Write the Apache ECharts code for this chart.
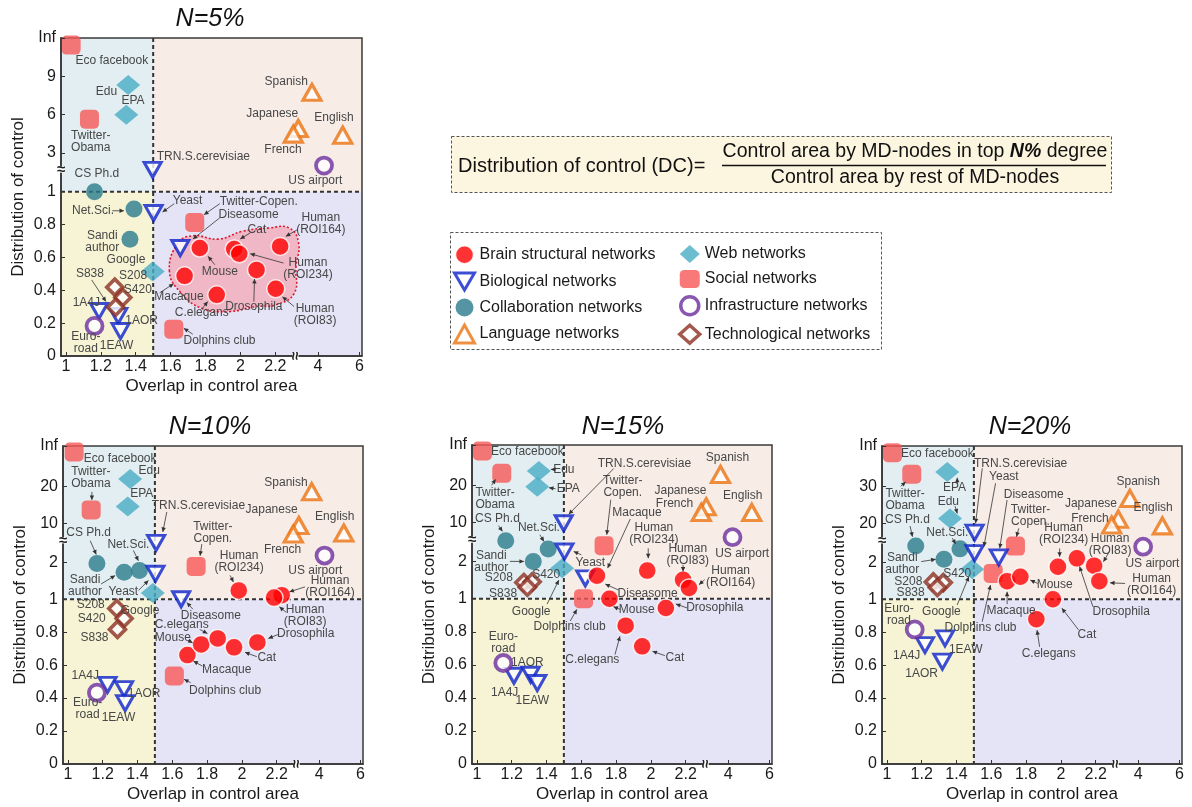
<!DOCTYPE html>
<html>
<head>
<meta charset="utf-8">
<title>Distribution of control vs overlap in control area</title>
<script src="https://cdn.jsdelivr.net/npm/echarts@6.0.0/dist/echarts.min.js"></script>
<style>
html,body{margin:0;padding:0;background:#ffffff;}
#chart{width:1192px;height:807px;}
</style>
</head>
<body>
<div id="chart"></div>
<script>
// ---------- categories ----------
const categories = [
  'Brain structural networks', 'Biological networks', 'Collaboration networks', 'Language networks',
  'Web networks', 'Social networks', 'Infrastructure networks', 'Technological networks'
];

// ---------- tick labels ----------
const xTickValues = [1, 1.2, 1.4, 1.6, 1.8, 2, 2.2, 4, 6];
const xTickLabels = ['1', '1.2', '1.4', '1.6', '1.8', '2', '2.2', '4', '6'];

const yTickValues5 = [0, 0.2, 0.4, 0.6, 0.8, 1, 3, 6, 9, 12];
const yTickLabels5 = ['0', '0.2', '0.4', '0.6', '0.8', '1', '3', '6', '9', 'Inf'];
const yTickValues10 = [0, 0.2, 0.4, 0.6, 0.8, 1, 2, 10, 20, 30.8];
const yTickLabels10 = ['0', '0.2', '0.4', '0.6', '0.8', '1', '2', '10', '20', 'Inf'];
const yTickValues20 = [0, 0.2, 0.4, 0.6, 0.8, 1, 2, 20, 30, 40.8];
const yTickLabels20 = ['0', '0.2', '0.4', '0.6', '0.8', '1', '2', '20', '30', 'Inf'];

// broken y scales: [value, axis position]
const yScale5 = [[0, 0], [1, 1], [3, 1.235], [12, 1.935]];
const yScale10 = [[0, 0], [1, 1], [2, 1.224], [10, 1.461], [30.8, 1.93]];
const yScale20 = [[0, 0], [1, 1], [2, 1.224], [20, 1.461], [40.8, 1.93]];

// ---------- values: [name, category index, overlap, distribution] ----------
const points5 = [
  ['Eco facebook', 5, 1.03, 11.45], ['Twitter-\nObama', 5, 1.135, 5.65],
  ['Twitter-Copen.', 5, 1.738, 0.813], ['Dolphins club', 5, 1.618, 0.163],
  ['Edu', 4, 1.357, 8.33], ['EPA', 4, 1.346, 6.0], ['Google', 4, 1.497, 0.514],
  ['TRN.S.cerevisiae', 1, 1.497, 2.13], ['Yeast', 1, 1.502, 0.87], ['Diseasome', 1, 1.655, 0.657],
  ['1A4J', 1, 1.19, 0.274], ['1AOR', 1, 1.30, 0.244], ['1EAW', 1, 1.313, 0.152],
  ['CS Ph.d', 2, 1.164, 1.0], ['Net.Sci.', 2, 1.39, 0.894], ['Sandi\nauthor', 2, 1.367, 0.711],
  ['S208', 7, 1.28, 0.419], ['S420', 7, 1.326, 0.356], ['S838', 7, 1.285, 0.297],
  ['Euro-\nroad', 6, 1.164, 0.183], ['US airport', 6, 4.29, 2.35],
  ['Spanish', 3, 3.71, 7.75], ['Japanese', 3, 3.05, 4.92], ['French', 3, 2.81, 4.48], ['English', 3, 5.19, 4.4],
  ['Mouse', 0, 1.767, 0.657], ['Cat', 0, 1.964, 0.651], ['Human\n(ROI234)', 0, 1.993, 0.622],
  ['Human\n(ROI164)', 0, 2.227, 0.667], ['Macaque', 0, 1.68, 0.488], ['Drosophila', 0, 2.092, 0.524],
  ['C.elegans', 0, 1.864, 0.372], ['Human\n(ROI83)', 0, 2.202, 0.409]
];

const points10 = [
  ['Eco facebook', 5, 1.036, 29.2], ['Twitter-\nObama', 5, 1.134, 13.6],
  ['Twitter-\nCopen.', 5, 1.737, 1.89], ['Dolphins club', 5, 1.612, 0.534],
  ['Edu', 4, 1.358, 21.9], ['EPA', 4, 1.344, 14.5], ['Google', 4, 1.488, 1.17],
  ['TRN.S.cerevisiae', 1, 1.507, 5.97], ['Yeast', 1, 1.503, 1.69], ['Diseasome', 1, 1.651, 1.0],
  ['1A4J', 1, 1.228, 0.48], ['1AOR', 1, 1.323, 0.454], ['1EAW', 1, 1.329, 0.369],
  ['CS Ph.d', 2, 1.167, 1.97], ['Net.Sci.', 2, 1.411, 1.78], ['Sandi\nauthor', 2, 1.323, 1.73],
  ['S208', 7, 1.281, 0.944], ['S420', 7, 1.323, 0.883], ['S838', 7, 1.285, 0.817],
  ['Euro-\nroad', 6, 1.167, 0.433], ['US airport', 6, 4.26, 3.39],
  ['Spanish', 3, 3.64, 18.5], ['Japanese', 3, 3.02, 9.55], ['French', 3, 2.75, 7.8], ['English', 3, 5.19, 8.0],
  ['Human\n(ROI234)', 0, 1.982, 1.24], ['Human\n(ROI164)', 0, 2.229, 1.11], ['Human\n(ROI83)', 0, 2.185, 1.045],
  ['Macaque', 0, 1.687, 0.661], ['Mouse', 0, 1.766, 0.726], ['C.elegans', 0, 1.861, 0.762],
  ['Cat', 0, 1.955, 0.708], ['Drosophila', 0, 2.089, 0.738]
];

const points15 = [
  ['Eco facebook', 5, 1.032, 29.2], ['Twitter-\nObama', 5, 1.143, 23.2],
  ['Twitter-\nCopen.', 5, 1.731, 5.26], ['Dolphins club', 5, 1.613, 1.0],
  ['Edu', 4, 1.356, 23.8], ['EPA', 4, 1.347, 19.6], ['Google', 4, 1.49, 1.82],
  ['TRN.S.cerevisiae', 1, 1.499, 9.85], ['Yeast', 1, 1.503, 4.08], ['Diseasome', 1, 1.623, 1.55],
  ['1A4J', 1, 1.213, 0.534], ['1AOR', 1, 1.309, 0.54], ['1EAW', 1, 1.347, 0.49],
  ['CS Ph.d', 2, 1.166, 6.3], ['Net.Sci.', 2, 1.41, 4.57], ['Sandi\nauthor', 2, 1.324, 2.06],
  ['S208', 7, 1.27, 1.44], ['S420', 7, 1.318, 1.46], ['S838', 7, 1.29, 1.31],
  ['Euro-\nroad', 6, 1.152, 0.611], ['US airport', 6, 4.21, 7.0],
  ['Spanish', 3, 3.63, 22.9], ['Japanese', 3, 2.94, 14.2], ['French', 3, 2.70, 12.7], ['English', 3, 5.14, 12.7],
  ['Macaque', 0, 1.69, 1.62], ['Mouse', 0, 1.762, 1.0], ['Human\n(ROI234)', 0, 1.979, 1.76],
  ['Human\n(ROI83)', 0, 2.185, 1.51], ['Human\n(ROI164)', 0, 2.219, 1.29], ['Drosophila', 0, 2.086, 0.944],
  ['C.elegans', 0, 1.855, 0.837], ['Cat', 0, 1.95, 0.712]
];

const points20 = [
  ['Eco facebook', 5, 1.032, 39], ['Twitter-\nObama', 5, 1.143, 33.2],
  ['Twitter-\nCopen.', 5, 1.739, 9.5], ['Dolphins club', 5, 1.611, 1.70],
  ['EPA', 4, 1.347, 33.8], ['Edu', 4, 1.363, 21.3], ['Google', 4, 1.49, 1.81],
  ['TRN.S.cerevisiae', 1, 1.504, 15.7], ['Yeast', 1, 1.504, 6.2], ['Diseasome', 1, 1.643, 4.3],
  ['1A4J', 1, 1.219, 0.722], ['1EAW', 1, 1.334, 0.762], ['1AOR', 1, 1.319, 0.621],
  ['CS Ph.d', 2, 1.166, 9.5], ['Net.Sci.', 2, 1.42, 8.2], ['Sandi\nauthor', 2, 1.328, 3.4],
  ['S208', 7, 1.267, 1.47], ['S420', 7, 1.324, 1.45], ['S838', 7, 1.29, 1.32],
  ['Euro-\nroad', 6, 1.16, 0.817], ['US airport', 6, 4.24, 9.2],
  ['Spanish', 3, 3.6, 26.7], ['Japanese', 3, 3.04, 21.1], ['French', 3, 2.72, 19.2], ['English', 3, 5.17, 18.8],
  ['Macaque', 0, 1.691, 1.49], ['Mouse', 0, 1.767, 1.61], ['Human\n(ROI234)', 0, 1.983, 1.88],
  ['Drosophila', 0, 2.092, 3.85], ['Human\n(ROI83)', 0, 2.191, 1.91], ['Human\n(ROI164)', 0, 2.221, 1.49],
  ['Cat', 0, 1.954, 1.0], ['C.elegans', 0, 1.859, 0.879]
];

// outline of the brain-network cluster at N=5%
const brainArea5 = [
  [1.593, 0.514], [1.642, 0.687], [1.729, 0.732], [1.874, 0.711], [2.009, 0.758], [2.163, 0.779],
  [2.279, 0.779], [2.333, 0.687], [2.318, 0.545], [2.308, 0.382], [2.202, 0.311], [2.086, 0.301],
  [1.932, 0.270], [1.777, 0.291], [1.661, 0.382]
];

// ---------- label placement (pixel offsets from the marker; optional leader arrow) ----------
const layout5 = {
  'Eco facebook': [40.7, 15.7], 'Edu': [-21.7, 6.7], 'EPA': [6.7, -14.3], 'Twitter-\nObama': [1.3, 22.7],
  'TRN.S.cerevisiae': [50.7, -13.3], 'CS Ph.d': [2.3, -17.7], 'Spanish': [-25.7, -10.7],
  'Japanese': [-26, -15], 'French': [-10.3, 16], 'English': [-8.7, -17.7], 'US airport': [-8.7, 15.3],
  'Net.Sci.': [-41, 1.7, [-21.7, 1.7, -10, 1.7]], 'Yeast': [34, -12.7, [20.7, -9.3, 9, -1]],
  'Twitter-Copen.': [64, -20.7, [25, -18.7, 9.3, -7.7]], 'Diseasome': [68.3, -33.3, [39.3, -30, 12.7, -9]],
  'Cat': [22.7, -19.3, [16, -16, 6, -10]], 'Human\n(ROI164)': [40.7, -22.7, [17.3, -16.7, 5.7, -10]],
  'Mouse': [20, 23.3, [15, 16.7, 8.3, 8.3]], 'Human\n(ROI234)': [68.7, 15.3, [44.3, 9.3, 11, 0]],
  'Google': [-26.7, -11.7], 'S838': [-25.7, -34, [-24, -27.3, -9.7, -5.7]], 'S208': [18.3, -11.3],
  'S420': [15, -7.7], 'Macaque': [-5.7, 20.7, [-25, 17, -11, 8]],
  'Drosophila': [-2.7, 37.3, [-2.7, 31.7, -2, 9]], 'C.elegans': [-15, 18.3, [-15, 14.3, -9, 6.7]],
  'Human\n(ROI83)': [39.3, 26, [18.3, 17.7, 6.7, 8]], '1A4J': [-12.7, -8.3], '1AOR': [23.3, 5],
  '1EAW': [-4, 15], 'Euro-\nroad': [-8.7, 16.7], 'Dolphins club': [45.7, 11.3, [19, 5, 10, -1]],
  'Sandi\nauthor': [-27.7, 2.3]
};
const layout10 = {
  'Eco facebook': [46, 6.7], 'Twitter-\nObama': [-0.3, -32.3, [0.7, -18, 0.7, -10]], 'Edu': [19, -8],
  'EPA': [14, -13.3], 'TRN.S.cerevisiae': [42.3, -37.7, [10.7, -31, 6.7, -11]],
  'CS Ph.d': [-8.3, -30.3, [-6.7, -22.7, -0.7, -9]], 'Net.Sci.': [-11, -26, [-6, -20, -1, -9.7]],
  'Sandi\nauthor': [-39, 13.3, [-23, 11.7, -9, 3.3]], 'Yeast': [-32, 18.3, [-17, 16.7, -7, 6.7]],
  'Google': [-12.7, 18], 'Twitter-\nCopen.': [16.7, -34, [5.7, -22.3, 4, -10.7]],
  'Human\n(ROI234)': [0.3, -28.3, [-8.7, -15, -5.3, -8.3]], 'Spanish': [-25.7, -9.3],
  'Japanese': [-27.3, -15.7], 'French': [-10.7, 15.7], 'English': [-9, -16.7], 'US airport': [-9.3, 15],
  'Human\n(ROI164)': [48.3, -8.3, [23.3, -8.3, 7.7, -3.3]], 'Human\n(ROI83)': [31, 17.7, [12, 14.7, 5.3, 9.3]],
  'Diseasome': [29.7, 16.7, [11.7, 10, 5.7, 3.3]], 'S208': [-26, -3.3], 'S420': [-32.3, 0], 'S838': [-23, 8],
  'C.elegans': [-36, -13.3, [-18, -9, -10.3, -5]], 'Mouse': [-28.3, -7, [-13, -4, -8.5, -1.5]],
  'Macaque': [39.3, 15, [15, 11, 6, 6]], 'Cat': [32.7, 10.3, [22.7, 9.3, 11, 5]],
  'Drosophila': [48.3, -9, [21, -8, 11, -4]], 'Dolphins club': [50.7, 15, [16.3, 6.7, 9.7, 3.3]],
  'Euro-\nroad': [-9.3, 16.3], '1A4J': [-22.3, -9], '1AOR': [20, 4.3], '1EAW': [-6.7, 14.3]
};
const layout15 = {
  'Eco facebook': [45, 1], 'Twitter-\nObama': [-6.7, 25, [-10.3, 12, -6, 6]], 'Edu': [25, -1.7, [17, -1.7, 12, -1.7]],
  'EPA': [31, 2, [18.3, 2, 11.7, 1]], 'TRN.S.cerevisiae': [80.7, -60, [50, -54.7, 5, -9]],
  'Twitter-\nCopen.': [18.7, -58.7, [6.7, -46, 2.7, -11]], 'Macaque': [40, -62.7, [33.3, -56.7, 10.7, -7.7]],
  'CS Ph.d': [-8.3, -21.7, [-7.3, -15, -3.3, -9.3]], 'Net.Sci.': [-9.3, -21, [-8.3, -14.3, -4.3, -7.7]],
  'Sandi\nauthor': [-42, 0.7, [-23.3, 0, -9.3, 0]], 'Yeast': [26, 10.7, [17, 3.3, 9.3, 0]],
  'Google': [-31, 43.3, [-15, 35.7, -3.3, 11.7]], 'S208': [-25, -4.3], 'S420': [14, -7.3], 'S838': [-24.3, 6.7],
  'Diseasome': [62.3, 15, [33.3, 11.7, 20, 5.7]], 'Dolphins club': [-14, 28.3, [-13.3, 22.3, -6.7, 10.7]],
  'Mouse': [27.3, 10.7, [10.7, 10.7, 4, 8]], 'Human\n(ROI234)': [6.7, -37.3, [1, -22.3, 1, -12.3]],
  'Human\n(ROI83)': [4.7, -25, [0, -15, 0, -8.3]], 'Human\n(ROI164)': [41.7, -11.7, [15.7, -8.3, 10, -3.3]],
  'Drosophila': [49, 0, [21.3, 0, 10, -4]], 'C.elegans': [-33.3, 34, [-10.7, 29, -5.7, 10.7]],
  'Cat': [32.7, 11.7, [22.7, 9.3, 10.3, 5]], 'Spanish': [7, -16.7], 'Japanese': [-25.7, -16],
  'French': [-26.7, -8.3], 'English': [-9, -16.7], 'US airport': [9.7, 16.7], 'Euro-\nroad': [0, -20],
  '1AOR': [-3.3, -12.3], '1A4J': [-9.3, 17.3], '1EAW': [-5, 17.3]
};
const layout20 = {
  'Eco facebook': [45, 1], 'Twitter-\nObama': [-6.7, 25.3, [-11, 12, -6, 7.7]], 'EPA': [7.3, 15.7, [10, 11.7, 10, 5.7]],
  'Edu': [-1.7, -16.7, [5, -12.3, 7.3, -5]], 'CS Ph.d': [-8.3, -26.7, [-5.7, -20, -3.3, -9.3]],
  'Net.Sci.': [-12.7, -16.3, [-7.7, -10.7, -4.3, -5]], 'Sandi\nauthor': [-41.7, 4.7, [-22.7, 2.3, -8.3, 0]],
  'TRN.S.cerevisiae': [46, -69.3, [7.7, -64.3, 1, -9.3]], 'Yeast': [29.3, -76.7, [21, -70, 9.3, -6.7]],
  'Diseasome': [35, -62.3, [8.3, -57.3, 1, -9]], 'Twitter-\nCopen.': [15, -30, [3.3, -17.7, 1, -9.3]],
  'Google': [-30.7, 42.3, [-15, 35.7, -3.3, 7.3]], 'S208': [-25, 0], 'S420': [14, -8.7], 'S838': [-26.7, 5],
  'Dolphins club': [-12.7, 54.3, [-11, 48.3, -2.7, 11.7]], 'Macaque': [4, 29.7, [0, 23, 0, 10.7]],
  'Mouse': [34.3, 8.3, [17.3, 6.7, 10, 3.3]], 'Human\n(ROI234)': [5.7, -33.3, [1.7, -18.3, 1.7, -10]],
  'Drosophila': [44.3, 53.3, [16, 48.3, 2.7, 8.3]], 'Human\n(ROI83)': [16, -21.3, [14.3, -12.3, 9.3, -4]],
  'Human\n(ROI164)': [52.3, 4, [25.7, 2.3, 10.7, 1.7]], 'Cat': [34, 35, [25.7, 30.7, 9, 9]],
  'C.elegans': [12.3, 34.3, [3.3, 27.7, 0.7, 11]], 'Spanish': [8.3, -16.7], 'Japanese': [-27.3, -16],
  'French': [-21.7, -6.7], 'English': [-9.3, -17.7], 'US airport': [9.3, 16.7], 'Euro-\nroad': [-15.7, -14.3],
  '1A4J': [-18.3, 10.7], '1EAW': [20.7, 11], '1AOR': [-20.7, 12.3]
};

// ---------- axis mapping for the broken scales ----------
// lower x segment is linear up to the break, upper segment carries the 4 / 6 ticks
const xMap = x => (x <= 2.5 ? x : 2.444 + (x - 4) * 0.119);
function makeYMap(bp) {
  return y => {
    for (let i = 1; i < bp.length; i++) {
      if (y <= bp[i][0] || i === bp.length - 1) {
        const v0 = bp[i - 1][0], t0 = bp[i - 1][1], v1 = bp[i][0], t1 = bp[i][1];
        return t0 + (y - v0) * (t1 - t0) / (v1 - v0);
      }
    }
    return y;
  };
}

const FONT = '"Liberation Sans", Arial, sans-serif';
const X_MIN = 0.972, X_MAX = 2.696, X_BREAK = 2.315;

const panels = [
  { title: 'N=5%', titlePos: [210, 19], grid: { left: 61, top: 38, width: 301, height: 318 }, ymax: 1.935,
    scale: yScale5, yVals: yTickValues5, yLbls: yTickLabels5, pts: points5, lay: layout5, blob: brainArea5, yBreak: 1.134 },
  { title: 'N=10%', titlePos: [210, 427], grid: { left: 63, top: 446, width: 300, height: 318 }, ymax: 1.93,
    scale: yScale10, yVals: yTickValues10, yLbls: yTickLabels10, pts: points10, lay: layout10, blob: null, yBreak: 1.357 },
  { title: 'N=15%', titlePos: [623, 427], grid: { left: 472, top: 445, width: 300, height: 319 }, ymax: 1.93,
    scale: yScale10, yVals: yTickValues10, yLbls: yTickLabels10, pts: points15, lay: layout15, blob: null, yBreak: 1.357 },
  { title: 'N=20%', titlePos: [1030, 427], grid: { left: 882, top: 446, width: 300, height: 318 }, ymax: 1.93,
    scale: yScale20, yVals: yTickValues20, yLbls: yTickLabels20, pts: points20, lay: layout20, blob: null, yBreak: 1.357 }
];

// marker styles per category
const catStyle = [
  { symbol: 'circle', symbolSize: 18, itemStyle: { color: '#ff0000', borderColor: '#ffffff', borderWidth: 1.5 } },
  { symbol: 'path://M0,0L20,0L10,17Z', symbolSize: [17, 15], itemStyle: { color: '#ffffff', borderColor: '#0b22c9', borderWidth: 3 } },
  { symbol: 'circle', symbolSize: 17, itemStyle: { color: '#2b7b8c' } },
  { symbol: 'triangle', symbolSize: [18, 16], itemStyle: { color: '#ffffff', borderColor: '#eb7310', borderWidth: 3.2 } },
  { symbol: 'diamond', symbolSize: [24, 20], itemStyle: { color: '#48adc5' } },
  { symbol: 'roundRect', symbolSize: 19, itemStyle: { color: '#f75757' } },
  { symbol: 'circle', symbolSize: 16, itemStyle: { color: '#ffffff', borderColor: '#6b2d9d', borderWidth: 3.8 } },
  { symbol: 'diamond', symbolSize: 16, itemStyle: { color: '#ffffff', borderColor: '#8c2f21', borderWidth: 3.6 } }
];
const legendBorder = [1.5, 3, 0, 3, 0, 0, 3.5, 3.5];
const drawOrder = [3, 4, 5, 2, 1, 7, 6, 0];

const grids = [], xAxes = [], yAxes = [], series = [], graphics = [];

panels.forEach((P, pi) => {
  const yMap = makeYMap(P.scale);
  grids.push(Object.assign({ show: false }, P.grid));

  const xT = xTickValues.map(xMap);
  const xLookup = {};
  xT.forEach((t, i) => { xLookup[t.toFixed(4)] = xTickLabels[i]; });
  const yT = P.yVals.map(yMap);
  const yLookup = {};
  yT.forEach((t, i) => { yLookup[t.toFixed(4)] = P.yLbls[i]; });

  xAxes.push({
    gridIndex: pi, type: 'value', min: X_MIN, max: X_MAX, z: 4,
    name: 'Overlap in control area', nameLocation: 'middle', nameGap: 22,
    nameTextStyle: { fontSize: 17, color: '#1a1a1a', fontFamily: FONT },
    axisLine: { show: true, onZero: false, lineStyle: { color: '#333', width: 1.5 } },
    axisTick: { show: true, inside: true, length: 4, customValues: xT, lineStyle: { color: '#333' } },
    axisLabel: { customValues: xT, formatter: v => xLookup[v.toFixed(4)] || '', fontSize: 16,
      color: '#1a1a1a', fontFamily: FONT, margin: 3 },
    splitLine: { show: false }
  });
  yAxes.push({
    gridIndex: pi, type: 'value', min: 0, max: P.ymax, z: 4,
    name: 'Distribution of control', nameLocation: 'middle', nameGap: 34,
    nameTextStyle: { fontSize: 17, color: '#1a1a1a', fontFamily: FONT },
    axisLine: { show: true, onZero: false, lineStyle: { color: '#333', width: 1.5 } },
    axisTick: { show: true, inside: true, length: 4, customValues: yT, lineStyle: { color: '#333' } },
    axisLabel: { customValues: yT, formatter: v => yLookup[v.toFixed(4)] || '', fontSize: 16,
      color: '#1a1a1a', fontFamily: FONT, margin: 5 },
    splitLine: { show: false }
  });

  // quadrant shading, cluster outline, dividers and frame
  series.push({
    type: 'custom', xAxisIndex: pi, yAxisIndex: pi, z: 1, silent: true, clip: false,
    data: [[1.5, 1]],
    renderItem: (params, api) => {
      const cs = params.coordSys;
      const L = cs.x, T = cs.y, W = cs.width, H = cs.height;
      const c = api.coord([api.value(0), api.value(1)]);
      const rect = (x, y, w, h, fill) => ({ type: 'rect', shape: { x, y, width: w, height: h }, style: { fill } });
      const ch = [
        rect(L, T, c[0] - L, c[1] - T, '#e2eef1'),
        rect(c[0], T, L + W - c[0], c[1] - T, '#f7ece6'),
        rect(L, c[1], c[0] - L, T + H - c[1], '#f6f4d4'),
        rect(c[0], c[1], L + W - c[0], T + H - c[1], '#e4e4f6')
      ];
      if (P.blob) {
        ch.push({ type: 'polygon',
          shape: { points: P.blob.map(q => api.coord([xMap(q[0]), yMap(q[1])])), smooth: 0.45 },
          style: { fill: '#f0b7c6', stroke: '#e0182c', lineWidth: 1.6, lineDash: [2, 2] } });
      }
      ch.push({ type: 'line', shape: { x1: c[0], y1: T, x2: c[0], y2: T + H },
        style: { stroke: '#333', lineWidth: 2, lineDash: [4, 3] } });
      ch.push({ type: 'line', shape: { x1: L, y1: c[1], x2: L + W, y2: c[1] },
        style: { stroke: '#333', lineWidth: 2, lineDash: [4, 3] } });
      ch.push({ type: 'rect', shape: { x: L, y: T, width: W, height: H },
        style: { fill: 'none', stroke: '#3a3a3a', lineWidth: 1.5 } });
      return { type: 'group', children: ch };
    }
  });

  // markers
  drawOrder.forEach(ci => {
    const st = catStyle[ci];
    series.push({
      type: 'scatter', name: categories[ci], xAxisIndex: pi, yAxisIndex: pi, z: 3, silent: true,
      symbol: st.symbol, symbolSize: st.symbolSize, itemStyle: st.itemStyle,
      data: P.pts.filter(p => p[1] === ci).map(p => ({ name: p[0], value: [xMap(p[2]), yMap(p[3])] }))
    });
  });

  // text labels with leader arrows
  const ann = P.pts.filter(p => P.lay[p[0]]);
  series.push({
    type: 'custom', xAxisIndex: pi, yAxisIndex: pi, z: 5, silent: true, clip: false,
    data: ann.map(p => [xMap(p[2]), yMap(p[3])]),
    renderItem: (params, api) => {
      const p = ann[params.dataIndex];
      const L = P.lay[p[0]];
      const c = api.coord([api.value(0), api.value(1)]);
      const ch = [{
        type: 'text', x: c[0] + L[0], y: c[1] + L[1],
        style: { text: p[0], fill: '#474747', font: '12px ' + FONT, lineHeight: 12,
          align: 'center', verticalAlign: 'middle', textAlign: 'center', textVerticalAlign: 'middle' }
      }];
      if (L[2]) {
        const a = L[2];
        const x1 = c[0] + a[0], y1 = c[1] + a[1], x2 = c[0] + a[2], y2 = c[1] + a[3];
        const ang = Math.atan2(y2 - y1, x2 - x1);
        const hl = 4.5, hw = 2.2;
        ch.push({ type: 'line', shape: { x1, y1, x2, y2 }, style: { stroke: '#333', lineWidth: 0.8 } });
        ch.push({ type: 'polygon', shape: { points: [
          [x2, y2],
          [x2 - hl * Math.cos(ang) + hw * Math.sin(ang), y2 - hl * Math.sin(ang) - hw * Math.cos(ang)],
          [x2 - hl * Math.cos(ang) - hw * Math.sin(ang), y2 - hl * Math.sin(ang) + hw * Math.cos(ang)]
        ] }, style: { fill: '#333' } });
      }
      return { type: 'group', children: ch };
    }
  });

  // axis break marks
  series.push({
    type: 'custom', xAxisIndex: pi, yAxisIndex: pi, z: 6, silent: true, clip: false,
    data: [[X_BREAK, P.yBreak]],
    renderItem: (params, api) => {
      const cs = params.coordSys;
      const c = api.coord([api.value(0), api.value(1)]);
      const bx = c[0], by = cs.y + cs.height;
      const lx = cs.x, ly = c[1];
      return { type: 'group', children: [
        { type: 'rect', shape: { x: lx - 4, y: ly - 3, width: 8, height: 6 }, style: { fill: '#ffffff' } },
        { type: 'text', x: lx, y: ly, style: { text: '≈', font: 'bold 15px ' + FONT, fill: '#222',
          align: 'center', verticalAlign: 'middle', textAlign: 'center', textVerticalAlign: 'middle' } },
        { type: 'rect', shape: { x: bx - 3, y: by - 4, width: 6, height: 8 }, style: { fill: '#ffffff' } },
        { type: 'text', x: bx, y: by, rotation: Math.PI / 2, style: { text: '≈', font: 'bold 15px ' + FONT, fill: '#222',
          align: 'center', verticalAlign: 'middle', textAlign: 'center', textVerticalAlign: 'middle' } }
      ] };
    }
  });

  graphics.push({ type: 'text', x: P.titlePos[0], y: P.titlePos[1], z: 10,
    style: { text: P.title, font: 'italic 25px ' + FONT, fill: '#111',
      align: 'center', verticalAlign: 'middle', textAlign: 'center', textVerticalAlign: 'middle' } });
});

// definition box
graphics.push(
  { type: 'rect', shape: { x: 451.5, y: 136.5, width: 660, height: 56 }, z: 1,
    style: { fill: '#fcf5df', stroke: '#555', lineWidth: 1, lineDash: [3, 2] } },
  { type: 'text', x: 458, y: 166, z: 2,
    style: { text: 'Distribution of control (DC)=', font: '20px ' + FONT, fill: '#111',
      align: 'left', verticalAlign: 'middle', textAlign: 'left', textVerticalAlign: 'middle' } },
  { type: 'text', x: 915, y: 152, z: 2,
    style: { text: '{a|Control area by MD-nodes in top }{b|N%}{a| degree}',
      align: 'center', verticalAlign: 'middle', textAlign: 'center', textVerticalAlign: 'middle',
      rich: { a: { font: '19.5px ' + FONT, fill: '#111' }, b: { font: 'italic bold 19.5px ' + FONT, fill: '#111' } } } },
  { type: 'line', shape: { x1: 722, y1: 165.5, x2: 1106, y2: 165.5 }, z: 2, style: { stroke: '#111', lineWidth: 1.5 } },
  { type: 'text', x: 915, y: 178, z: 2,
    style: { text: 'Control area by rest of MD-nodes', font: '19.5px ' + FONT, fill: '#111',
      align: 'center', verticalAlign: 'middle', textAlign: 'center', textVerticalAlign: 'middle' } },
  // legend frame
  { type: 'rect', shape: { x: 450.5, y: 232.5, width: 431, height: 117 }, z: 1,
    style: { fill: '#ffffff', stroke: '#555', lineWidth: 1, lineDash: [3, 2] } }
);

const legendItems = idx => idx.map(i => ({ name: categories[i], itemStyle: { borderWidth: legendBorder[i] } }));
const legendBase = {
  orient: 'vertical', itemGap: 7, itemWidth: 20, itemHeight: 18, selectedMode: false, z: 5,
  textStyle: { fontSize: 16, color: '#1a1a1a', fontFamily: FONT }
};

const chart = echarts.init(document.getElementById('chart'), null, { renderer: 'canvas' });
chart.setOption({
  animation: false,
  backgroundColor: '#ffffff',
  grid: grids,
  xAxis: xAxes,
  yAxis: yAxes,
  legend: [
    Object.assign({ left: 448, top: 240, data: legendItems([0, 1, 2, 3]) }, legendBase),
    Object.assign({ left: 673, top: 240, data: legendItems([4, 5, 6, 7]) }, legendBase)
  ],
  graphic: { elements: graphics },
  series: series
});
</script>
</body>
</html>
